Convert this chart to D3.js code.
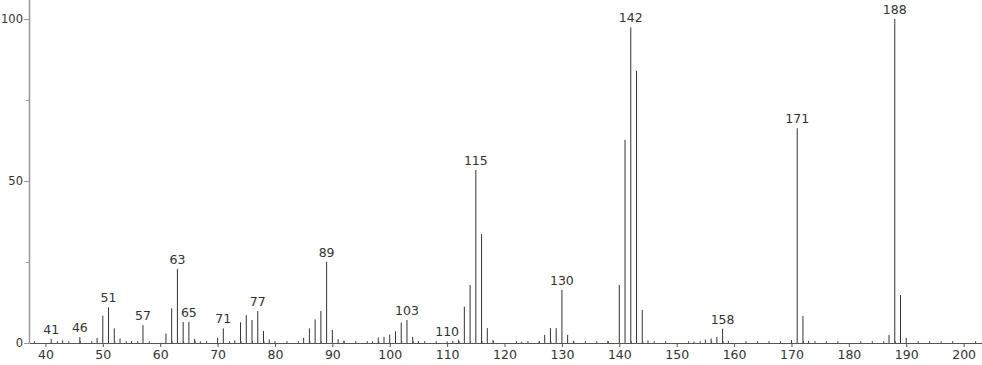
<!DOCTYPE html>
<html>
<head>
<meta charset="utf-8">
<script src="https://cdn.jsdelivr.net/npm/d3@7"></script>
<style>
    body { margin: 0; background: #fff; }
    svg { display: block; }
    text { font-family: "DejaVu Sans", sans-serif; font-size: 12.5px; fill: #333; }
</style>
</head>
<body>
<div id="chart"></div>
<script>
// m/z values and relative intensities
const mz = [41, 43, 46, 49, 50, 51, 52, 53, 55, 57, 61, 62, 63, 64, 65, 66, 67, 70, 71, 73, 74, 75, 76, 77, 78, 79, 80,
    85, 86, 87, 88, 89, 90, 91, 92, 97, 98, 99, 100, 101, 102, 103, 104, 105, 110, 111, 112, 113, 114, 115, 116, 117, 118,
    123, 126, 127, 128, 129, 130, 131, 132, 138, 140, 141, 142, 143, 144, 145, 153, 155, 156, 157, 158, 159,
    170, 171, 172, 173, 187, 188, 189, 190];
const intensity = [1.3, 0.8, 1.8, 1.6, 8.4, 11.0, 4.5, 1.4, 0.6, 5.5, 2.9, 10.7, 22.9, 6.5, 6.5, 1.3, 0.5, 1.6, 4.5, 0.8, 6.4, 8.6, 7.1, 9.9, 3.7, 1.1, 0.6,
    1.6, 4.5, 7.3, 9.9, 25.1, 4.0, 1.2, 0.7, 0.5, 1.7, 1.9, 2.6, 3.6, 6.3, 7.1, 1.9, 0.6, 0.5, 0.7, 1.0, 11.2, 17.9, 53.4, 33.6, 4.6, 0.9,
    0.4, 0.5, 2.5, 4.6, 4.6, 16.4, 2.5, 0.7, 0.6, 17.9, 62.7, 97.4, 84.0, 10.2, 0.8, 0.4, 1.0, 1.4, 1.9, 4.4, 0.7,
    0.9, 66.3, 8.3, 0.7, 2.5, 100, 14.8, 1.6];
// peaks that carry a label
const labelled = [41, 46, 51, 57, 63, 65, 71, 77, 89, 103, 110, 115, 130, 142, 158, 171, 188];

const xMajor = d3.range(40, 201, 10);
const xMinor = d3.range(38, 204, 2).filter(v => v % 10 !== 0);
const yMajor = [0, 50, 100];
const yMinor = [25, 75];

const w = 982, h = 365;
const svg = d3.select("#chart").append("svg").attr("width", w).attr("height", h);

const x = d3.scaleLinear().domain([37.14, 203.2]).range([29, 982]);
const y = d3.scaleLinear().domain([0, 100]).range([343, 19]);

const peaks = mz.map((m, i) => ({ m: m, v: intensity[i] }));

// bars
svg.selectAll("line.peak")
    .data(peaks)
    .enter()
    .append("line")
    .attr("class", "peak")
    .attr("x1", d => x(d.m))
    .attr("x2", d => x(d.m))
    .attr("y1", y(0))
    .attr("y2", d => y(d.v))
    .attr("stroke", "#333")
    .attr("stroke-width", 1);

// x axis
const xAxis = svg.append("g").attr("transform", "translate(0," + y(0) + ")")
    .call(d3.axisBottom(x).tickValues(xMajor).tickSize(4).tickSizeOuter(0).tickPadding(3));
xAxis.select(".domain").attr("stroke", "#555");
xAxis.selectAll(".tick line").attr("stroke", "#555");
xAxis.selectAll("text").style("font-size", "12.5px").style("font-family", "DejaVu Sans").style("fill", "#333");

svg.append("g").attr("transform", "translate(0," + y(0) + ")")
    .call(d3.axisBottom(x).tickValues(xMinor).tickSize(-2).tickSizeOuter(0).tickFormat(""))
    .call(g => g.select(".domain").remove())
    .selectAll(".tick line").attr("stroke", "#555");

// y axis
const yAxis = svg.append("g").attr("transform", "translate(29,0)")
    .call(d3.axisLeft(y).tickValues(yMajor).tickSize(5).tickSizeOuter(0).tickPadding(1));
yAxis.select(".domain").attr("stroke", "#999").attr("stroke-width", 1.5).attr("d", "M0.5," + y(0) + "V0");
yAxis.selectAll(".tick line").attr("stroke", "#999");
yAxis.selectAll("text").style("font-size", "11.5px").style("font-family", "DejaVu Sans").style("fill", "#333");

svg.append("g").attr("transform", "translate(29,0)")
    .call(d3.axisLeft(y).tickValues(yMinor).tickSize(3).tickFormat(""))
    .call(g => g.select(".domain").remove())
    .selectAll(".tick line").attr("stroke", "#999");

// peak labels
svg.selectAll("text.lbl")
    .data(peaks.filter(d => labelled.includes(d.m)))
    .enter()
    .append("text")
    .attr("class", "lbl")
    .attr("x", d => x(d.m))
    .attr("y", d => y(d.v) - 5)
    .attr("text-anchor", "middle")
    .text(d => d.m);
</script>
</body>
</html>
